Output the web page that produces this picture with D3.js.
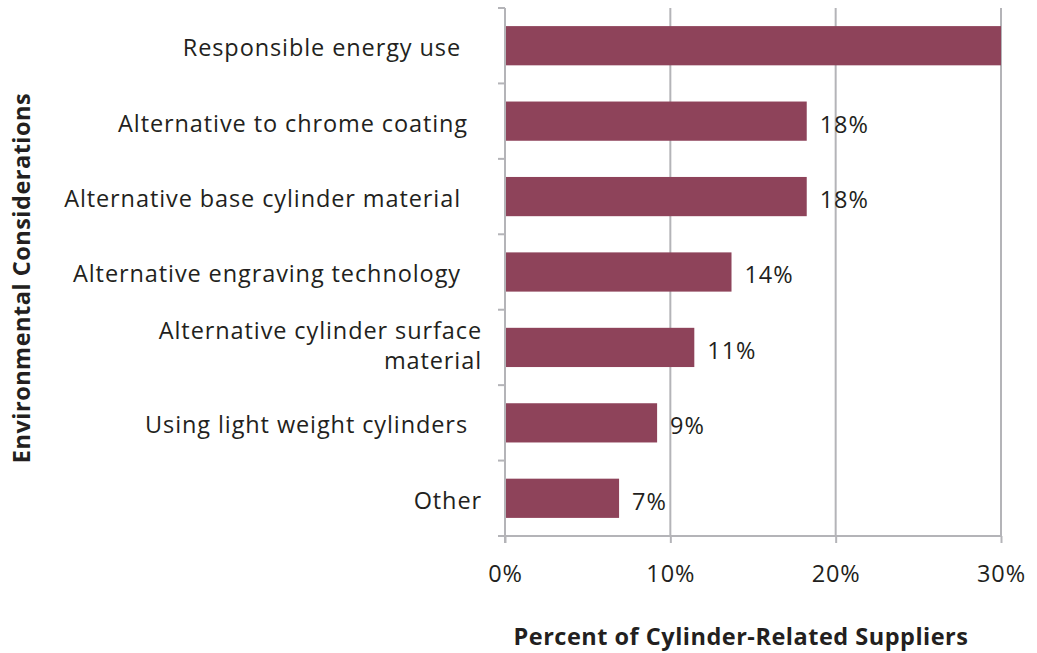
<!DOCTYPE html>
<html>
<head>
<meta charset="utf-8">
<script src="https://cdn.jsdelivr.net/npm/d3@7"></script>
<style>
  html, body { margin: 0; padding: 0; background: #fff; }
  svg { display: block; font-family: "Open Sans", sans-serif; }
  .cat { white-space: pre; }
</style>
</head>
<body>
<svg id="chart" width="1037" height="653"></svg>
<script>
// Environmental considerations reported by cylinder-related suppliers
const categories = [
  "Responsible energy use   ",
  "Alternative to chrome coating  ",
  "Alternative base cylinder material   ",
  "Alternative engraving technology   ",
  "Alternative cylinder surface\nmaterial",
  "Using light weight cylinders  ",
  "Other"
];
const values = [30, 18.25, 18.25, 13.7, 11.45, 9.2, 6.9];
const valueLabels = ["", "18%", "18%", "14%", "11%", "9%", "7%"];
const xTicks = [0, 10, 20, 30];
const xTitle = "Percent of Cylinder-Related Suppliers";
const yTitle = "Environmental Considerations";

const svg = d3.select("#chart");
const margin = { left: 505, right: 36, top: 8, bottom: 117 };
const W = 1037, H = 653;
const fs = 23.5;
const ls = "0.9px";   // letter spacing for regular text
const lsBold = "0.5px";

const x = d3.scaleLinear().domain([0, 30]).range([margin.left, W - margin.right]);
const y = d3.scaleBand().domain(d3.range(categories.length))
  .range([margin.top, H - margin.bottom]).paddingInner(0.48).paddingOuter(0.24);
const yEdges = d3.scaleLinear().domain([0, categories.length])
  .range([margin.top, H - margin.bottom]);

const gridColor = "#b4b4b8";
const textColor = "#231f20";

// vertical gridlines
svg.append("g").selectAll("line").data(xTicks.slice(1)).join("line")
  .attr("x1", d => x(d)).attr("x2", d => x(d))
  .attr("y1", margin.top).attr("y2", H - margin.bottom)
  .attr("stroke", gridColor).attr("stroke-width", 2);

// bars
svg.append("g").selectAll("rect").data(values).join("rect")
  .attr("x", x(0))
  .attr("y", (d, i) => y(i))
  .attr("width", d => x(Math.min(d, 30)) - x(0))
  .attr("height", y.bandwidth())
  .attr("fill", "#8e435a");

// value labels
svg.append("g").selectAll("text").data(values).join("text")
  .attr("x", d => x(d) + 13)
  .attr("y", (d, i) => y(i) + y.bandwidth() / 2 + 3)
  .attr("dy", "0.36em")
  .attr("font-size", fs)
  .attr("letter-spacing", ls)
  .attr("fill", textColor)
  .text((d, i) => valueLabels[i]);

// x axis
const xAxis = d3.axisBottom(x).tickValues(xTicks)
  .tickFormat(d => d + "%").tickSize(7).tickPadding(22);
const gx = svg.append("g").attr("transform", `translate(0,${H - margin.bottom})`).call(xAxis);
gx.select(".domain").remove();
gx.append("line").attr("x1", margin.left - 7).attr("x2", x(30))
  .attr("stroke", gridColor).attr("stroke-width", 2);
gx.selectAll(".tick line").attr("stroke", gridColor).attr("stroke-width", 2);
gx.selectAll(".tick text").attr("font-size", fs).attr("fill", textColor)
  .attr("letter-spacing", ls)
  .attr("font-family", "'Open Sans', sans-serif");

// y axis line and category separators
const gy = svg.append("g");
gy.append("line").attr("x1", margin.left).attr("x2", margin.left)
  .attr("y1", margin.top).attr("y2", H - margin.bottom + 7)
  .attr("stroke", gridColor).attr("stroke-width", 2);
gy.selectAll("line.sep").data(d3.range(categories.length)).join("line")
  .attr("class", "sep")
  .attr("x1", margin.left - 7).attr("x2", margin.left)
  .attr("y1", d => yEdges(d)).attr("y2", d => yEdges(d))
  .attr("stroke", gridColor).attr("stroke-width", 2);

// category labels (multi-line labels split on "\n")
const lineH = 30;
svg.append("g").selectAll("text").data(categories).join("text")
  .attr("class", "cat")
  .attr("text-anchor", "end")
  .attr("font-size", fs)
  .attr("letter-spacing", ls)
  .attr("fill", textColor)
  .each(function (d, i) {
    const lines = d.split("\n");
    const cy = y(i) + y.bandwidth() / 2 + (lines.length > 1 ? -2 : 2);
    const t = d3.select(this);
    lines.forEach((ln, k) => {
      t.append("tspan")
        .attr("x", 482)
        .attr("y", cy + (k - (lines.length - 1) / 2) * lineH)
        .attr("dy", "0.36em")
        .text(ln);
    });
  });

// axis titles
svg.append("text")
  .attr("x", 741).attr("y", 645)
  .attr("text-anchor", "middle")
  .attr("font-size", fs).attr("font-weight", "bold")
  .attr("letter-spacing", lsBold)
  .attr("fill", textColor)
  .text(xTitle);

svg.append("text")
  .attr("transform", "translate(30,278) rotate(-90)")
  .attr("text-anchor", "middle")
  .attr("font-size", fs).attr("font-weight", "bold")
  .attr("letter-spacing", lsBold)
  .attr("fill", textColor)
  .text(yTitle);
</script>
</body>
</html>
